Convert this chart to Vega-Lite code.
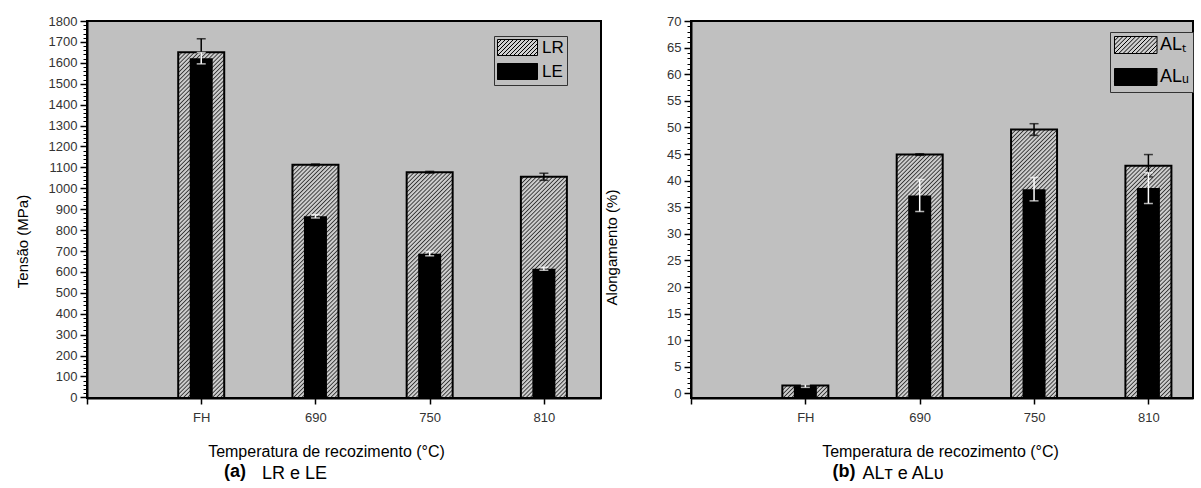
{
  "$schema": "https://vega.github.io/schema/vega-lite/v6.json",
  "padding": {"left": 14, "top": 14, "right": 0, "bottom": 0},
  "spacing": 1,
  "background": "white",
  "datasets": {
    "a": [
      {"Temp": "FH", "serie": "LR", "valor": 1650, "erro": 65},
      {"Temp": "690", "serie": "LR", "valor": 1112, "erro": 4},
      {"Temp": "750", "serie": "LR", "valor": 1077, "erro": 4},
      {"Temp": "810", "serie": "LR", "valor": 1055, "erro": 17},
      {"Temp": "FH", "serie": "LE", "valor": 1622, "erro": 27},
      {"Temp": "690", "serie": "LE", "valor": 866, "erro": 8},
      {"Temp": "750", "serie": "LE", "valor": 687, "erro": 10},
      {"Temp": "810", "serie": "LE", "valor": 615, "erro": 7}
    ],
    "b": [
      {"Temp": "FH", "serie": "ALT", "valor": 1.5, "erro": 0.1},
      {"Temp": "690", "serie": "ALT", "valor": 44.9, "erro": 0.15},
      {"Temp": "750", "serie": "ALT", "valor": 49.6, "erro": 1.1},
      {"Temp": "810", "serie": "ALT", "valor": 42.8, "erro": 2.1},
      {"Temp": "FH", "serie": "ALU", "valor": 1.4, "erro": 0.25},
      {"Temp": "690", "serie": "ALU", "valor": 37.2, "erro": 3.0},
      {"Temp": "750", "serie": "ALU", "valor": 38.4, "erro": 2.2},
      {"Temp": "810", "serie": "ALU", "valor": 38.6, "erro": 2.9}
    ]
  },
  "resolve": {"scale": {"fill": "independent"}, "legend": {"fill": "independent"}},
  "hconcat": [
    {
      "title": {"text": "LR e LE", "orient": "bottom", "anchor": "start", "frame": "bounds", "dx": 248, "offset": -17, "fontSize": 18, "fontWeight": "normal", "color": "#000"},
      "hconcat": [
    {
      "width": 514,
      "height": 377,
      "data": {"name": "a"},
      "title": {"text": "(a)", "orient": "bottom", "frame": "group", "anchor": "middle", "dx": -109, "offset": 4, "fontSize": 18, "fontWeight": "bold", "color": "#000"},
      "encoding": {
        "x": {
          "field": "Temp", "type": "ordinal",
          "scale": {"type": "point", "domain": ["", "FH", "690", "750", "810"], "padding": 0.25, "align": 0},
          "axis": {"title": "Temperatura de recozimento (°C)", "titleX": 239, "titlePadding": 19, "titleFontSize": 16, "tickSize": 6, "tickWidth": 1.5, "labelPadding": 7, "labelAngle": 0}
        }
      },
      "resolve": {"axis": {"y": "independent"}},
      "layer": [
        {
          "transform": [{"filter": "datum.serie == 'LR'"}],
          "mark": {"type": "bar", "size": 46, "fill": {
          "gradient": "linear", "x1": 0, "y1": 0, "x2": 0.13907, "y2": 1.10805,
          "stops": [
            {"offset":0,"color":"#333"},{"offset":0.003,"color":"#ccc"},{"offset":0.007,"color":"#ccc"},
            {"offset":0.01,"color":"#333"},{"offset":0.013,"color":"#ccc"},{"offset":0.017,"color":"#ccc"},
            {"offset":0.02,"color":"#333"},{"offset":0.023,"color":"#ccc"},{"offset":0.027,"color":"#ccc"},
            {"offset":0.03,"color":"#333"},{"offset":0.033,"color":"#ccc"},{"offset":0.037,"color":"#ccc"},
            {"offset":0.04,"color":"#333"},{"offset":0.043,"color":"#ccc"},{"offset":0.047,"color":"#ccc"},
            {"offset":0.05,"color":"#333"},{"offset":0.053,"color":"#ccc"},{"offset":0.057,"color":"#ccc"},
            {"offset":0.06,"color":"#333"},{"offset":0.063,"color":"#ccc"},{"offset":0.067,"color":"#ccc"},
            {"offset":0.07,"color":"#333"},{"offset":0.073,"color":"#ccc"},{"offset":0.077,"color":"#ccc"},
            {"offset":0.08,"color":"#333"},{"offset":0.083,"color":"#ccc"},{"offset":0.087,"color":"#ccc"},
            {"offset":0.09,"color":"#333"},{"offset":0.093,"color":"#ccc"},{"offset":0.097,"color":"#ccc"},
            {"offset":0.1,"color":"#333"},{"offset":0.103,"color":"#ccc"},{"offset":0.107,"color":"#ccc"},
            {"offset":0.11,"color":"#333"},{"offset":0.113,"color":"#ccc"},{"offset":0.117,"color":"#ccc"},
            {"offset":0.12,"color":"#333"},{"offset":0.123,"color":"#ccc"},{"offset":0.127,"color":"#ccc"},
            {"offset":0.13,"color":"#333"},{"offset":0.133,"color":"#ccc"},{"offset":0.137,"color":"#ccc"},
            {"offset":0.14,"color":"#333"},{"offset":0.143,"color":"#ccc"},{"offset":0.147,"color":"#ccc"},
            {"offset":0.15,"color":"#333"},{"offset":0.153,"color":"#ccc"},{"offset":0.157,"color":"#ccc"},
            {"offset":0.16,"color":"#333"},{"offset":0.163,"color":"#ccc"},{"offset":0.167,"color":"#ccc"},
            {"offset":0.17,"color":"#333"},{"offset":0.173,"color":"#ccc"},{"offset":0.177,"color":"#ccc"},
            {"offset":0.18,"color":"#333"},{"offset":0.183,"color":"#ccc"},{"offset":0.187,"color":"#ccc"},
            {"offset":0.19,"color":"#333"},{"offset":0.193,"color":"#ccc"},{"offset":0.197,"color":"#ccc"},
            {"offset":0.2,"color":"#333"},{"offset":0.203,"color":"#ccc"},{"offset":0.207,"color":"#ccc"},
            {"offset":0.21,"color":"#333"},{"offset":0.213,"color":"#ccc"},{"offset":0.217,"color":"#ccc"},
            {"offset":0.22,"color":"#333"},{"offset":0.223,"color":"#ccc"},{"offset":0.227,"color":"#ccc"},
            {"offset":0.23,"color":"#333"},{"offset":0.233,"color":"#ccc"},{"offset":0.237,"color":"#ccc"},
            {"offset":0.24,"color":"#333"},{"offset":0.243,"color":"#ccc"},{"offset":0.247,"color":"#ccc"},
            {"offset":0.25,"color":"#333"},{"offset":0.253,"color":"#ccc"},{"offset":0.257,"color":"#ccc"},
            {"offset":0.26,"color":"#333"},{"offset":0.263,"color":"#ccc"},{"offset":0.267,"color":"#ccc"},
            {"offset":0.27,"color":"#333"},{"offset":0.273,"color":"#ccc"},{"offset":0.277,"color":"#ccc"},
            {"offset":0.28,"color":"#333"},{"offset":0.283,"color":"#ccc"},{"offset":0.287,"color":"#ccc"},
            {"offset":0.29,"color":"#333"},{"offset":0.293,"color":"#ccc"},{"offset":0.297,"color":"#ccc"},
            {"offset":0.3,"color":"#333"},{"offset":0.303,"color":"#ccc"},{"offset":0.307,"color":"#ccc"},
            {"offset":0.31,"color":"#333"},{"offset":0.313,"color":"#ccc"},{"offset":0.317,"color":"#ccc"},
            {"offset":0.32,"color":"#333"},{"offset":0.323,"color":"#ccc"},{"offset":0.327,"color":"#ccc"},
            {"offset":0.33,"color":"#333"},{"offset":0.333,"color":"#ccc"},{"offset":0.337,"color":"#ccc"},
            {"offset":0.34,"color":"#333"},{"offset":0.343,"color":"#ccc"},{"offset":0.347,"color":"#ccc"},
            {"offset":0.35,"color":"#333"},{"offset":0.353,"color":"#ccc"},{"offset":0.357,"color":"#ccc"},
            {"offset":0.36,"color":"#333"},{"offset":0.363,"color":"#ccc"},{"offset":0.367,"color":"#ccc"},
            {"offset":0.37,"color":"#333"},{"offset":0.373,"color":"#ccc"},{"offset":0.377,"color":"#ccc"},
            {"offset":0.38,"color":"#333"},{"offset":0.383,"color":"#ccc"},{"offset":0.387,"color":"#ccc"},
            {"offset":0.39,"color":"#333"},{"offset":0.393,"color":"#ccc"},{"offset":0.397,"color":"#ccc"},
            {"offset":0.4,"color":"#333"},{"offset":0.403,"color":"#ccc"},{"offset":0.407,"color":"#ccc"},
            {"offset":0.41,"color":"#333"},{"offset":0.413,"color":"#ccc"},{"offset":0.417,"color":"#ccc"},
            {"offset":0.42,"color":"#333"},{"offset":0.423,"color":"#ccc"},{"offset":0.427,"color":"#ccc"},
            {"offset":0.43,"color":"#333"},{"offset":0.433,"color":"#ccc"},{"offset":0.437,"color":"#ccc"},
            {"offset":0.44,"color":"#333"},{"offset":0.443,"color":"#ccc"},{"offset":0.447,"color":"#ccc"},
            {"offset":0.45,"color":"#333"},{"offset":0.453,"color":"#ccc"},{"offset":0.457,"color":"#ccc"},
            {"offset":0.46,"color":"#333"},{"offset":0.463,"color":"#ccc"},{"offset":0.467,"color":"#ccc"},
            {"offset":0.47,"color":"#333"},{"offset":0.473,"color":"#ccc"},{"offset":0.477,"color":"#ccc"},
            {"offset":0.48,"color":"#333"},{"offset":0.483,"color":"#ccc"},{"offset":0.487,"color":"#ccc"},
            {"offset":0.49,"color":"#333"},{"offset":0.493,"color":"#ccc"},{"offset":0.497,"color":"#ccc"},
            {"offset":0.5,"color":"#333"},{"offset":0.503,"color":"#ccc"},{"offset":0.507,"color":"#ccc"},
            {"offset":0.51,"color":"#333"},{"offset":0.513,"color":"#ccc"},{"offset":0.517,"color":"#ccc"},
            {"offset":0.52,"color":"#333"},{"offset":0.523,"color":"#ccc"},{"offset":0.527,"color":"#ccc"},
            {"offset":0.53,"color":"#333"},{"offset":0.533,"color":"#ccc"},{"offset":0.537,"color":"#ccc"},
            {"offset":0.54,"color":"#333"},{"offset":0.543,"color":"#ccc"},{"offset":0.547,"color":"#ccc"},
            {"offset":0.55,"color":"#333"},{"offset":0.553,"color":"#ccc"},{"offset":0.557,"color":"#ccc"},
            {"offset":0.56,"color":"#333"},{"offset":0.563,"color":"#ccc"},{"offset":0.567,"color":"#ccc"},
            {"offset":0.57,"color":"#333"},{"offset":0.573,"color":"#ccc"},{"offset":0.577,"color":"#ccc"},
            {"offset":0.58,"color":"#333"},{"offset":0.583,"color":"#ccc"},{"offset":0.587,"color":"#ccc"},
            {"offset":0.59,"color":"#333"},{"offset":0.593,"color":"#ccc"},{"offset":0.597,"color":"#ccc"},
            {"offset":0.6,"color":"#333"},{"offset":0.603,"color":"#ccc"},{"offset":0.607,"color":"#ccc"},
            {"offset":0.61,"color":"#333"},{"offset":0.613,"color":"#ccc"},{"offset":0.617,"color":"#ccc"},
            {"offset":0.62,"color":"#333"},{"offset":0.623,"color":"#ccc"},{"offset":0.627,"color":"#ccc"},
            {"offset":0.63,"color":"#333"},{"offset":0.633,"color":"#ccc"},{"offset":0.637,"color":"#ccc"},
            {"offset":0.64,"color":"#333"},{"offset":0.643,"color":"#ccc"},{"offset":0.647,"color":"#ccc"},
            {"offset":0.65,"color":"#333"},{"offset":0.653,"color":"#ccc"},{"offset":0.657,"color":"#ccc"},
            {"offset":0.66,"color":"#333"},{"offset":0.663,"color":"#ccc"},{"offset":0.667,"color":"#ccc"},
            {"offset":0.67,"color":"#333"},{"offset":0.673,"color":"#ccc"},{"offset":0.677,"color":"#ccc"},
            {"offset":0.68,"color":"#333"},{"offset":0.683,"color":"#ccc"},{"offset":0.687,"color":"#ccc"},
            {"offset":0.69,"color":"#333"},{"offset":0.693,"color":"#ccc"},{"offset":0.697,"color":"#ccc"},
            {"offset":0.7,"color":"#333"},{"offset":0.703,"color":"#ccc"},{"offset":0.707,"color":"#ccc"},
            {"offset":0.71,"color":"#333"},{"offset":0.713,"color":"#ccc"},{"offset":0.717,"color":"#ccc"},
            {"offset":0.72,"color":"#333"},{"offset":0.723,"color":"#ccc"},{"offset":0.727,"color":"#ccc"},
            {"offset":0.73,"color":"#333"},{"offset":0.733,"color":"#ccc"},{"offset":0.737,"color":"#ccc"},
            {"offset":0.74,"color":"#333"},{"offset":0.743,"color":"#ccc"},{"offset":0.747,"color":"#ccc"},
            {"offset":0.75,"color":"#333"},{"offset":0.753,"color":"#ccc"},{"offset":0.757,"color":"#ccc"},
            {"offset":0.76,"color":"#333"},{"offset":0.763,"color":"#ccc"},{"offset":0.767,"color":"#ccc"},
            {"offset":0.77,"color":"#333"},{"offset":0.773,"color":"#ccc"},{"offset":0.777,"color":"#ccc"},
            {"offset":0.78,"color":"#333"},{"offset":0.783,"color":"#ccc"},{"offset":0.787,"color":"#ccc"},
            {"offset":0.79,"color":"#333"},{"offset":0.793,"color":"#ccc"},{"offset":0.797,"color":"#ccc"},
            {"offset":0.8,"color":"#333"},{"offset":0.803,"color":"#ccc"},{"offset":0.807,"color":"#ccc"},
            {"offset":0.81,"color":"#333"},{"offset":0.813,"color":"#ccc"},{"offset":0.817,"color":"#ccc"},
            {"offset":0.82,"color":"#333"},{"offset":0.823,"color":"#ccc"},{"offset":0.827,"color":"#ccc"},
            {"offset":0.83,"color":"#333"},{"offset":0.833,"color":"#ccc"},{"offset":0.837,"color":"#ccc"},
            {"offset":0.84,"color":"#333"},{"offset":0.843,"color":"#ccc"},{"offset":0.847,"color":"#ccc"},
            {"offset":0.85,"color":"#333"},{"offset":0.853,"color":"#ccc"},{"offset":0.857,"color":"#ccc"},
            {"offset":0.86,"color":"#333"},{"offset":0.863,"color":"#ccc"},{"offset":0.867,"color":"#ccc"},
            {"offset":0.87,"color":"#333"},{"offset":0.873,"color":"#ccc"},{"offset":0.877,"color":"#ccc"},
            {"offset":0.88,"color":"#333"},{"offset":0.883,"color":"#ccc"},{"offset":0.887,"color":"#ccc"},
            {"offset":0.89,"color":"#333"},{"offset":0.893,"color":"#ccc"},{"offset":0.897,"color":"#ccc"},
            {"offset":0.9,"color":"#333"},{"offset":0.903,"color":"#ccc"},{"offset":0.907,"color":"#ccc"},
            {"offset":0.91,"color":"#333"},{"offset":0.913,"color":"#ccc"},{"offset":0.917,"color":"#ccc"},
            {"offset":0.92,"color":"#333"},{"offset":0.923,"color":"#ccc"},{"offset":0.927,"color":"#ccc"},
            {"offset":0.93,"color":"#333"},{"offset":0.933,"color":"#ccc"},{"offset":0.937,"color":"#ccc"},
            {"offset":0.94,"color":"#333"},{"offset":0.943,"color":"#ccc"},{"offset":0.947,"color":"#ccc"},
            {"offset":0.95,"color":"#333"},{"offset":0.953,"color":"#ccc"},{"offset":0.957,"color":"#ccc"},
            {"offset":0.96,"color":"#333"},{"offset":0.963,"color":"#ccc"},{"offset":0.967,"color":"#ccc"},
            {"offset":0.97,"color":"#333"},{"offset":0.973,"color":"#ccc"},{"offset":0.977,"color":"#ccc"},
            {"offset":0.98,"color":"#333"},{"offset":0.983,"color":"#ccc"},{"offset":0.987,"color":"#ccc"},
            {"offset":0.99,"color":"#333"},{"offset":0.993,"color":"#ccc"},{"offset":0.997,"color":"#ccc"},
            {"offset":1,"color":"#333"}
          ]}},
          "encoding": {
            "y": {"datum": 1750, "type": "quantitative", "scale": {"domain": [-3, 1800], "nice": false, "zero": false},
              "axis": {"orient": "left", "title": "Tensão (MPa)", "titlePadding": 18, "titleY": 220, "titleFontSize": 15, "format": "d", "values": [0,100,200,300,400,500,600,700,800,900,1000,1100,1200,1300,1400,1500,1600,1700,1800], "tickSize": 7, "tickWidth": 1.5, "labelPadding": 3}},
            "y2": {"datum": -3}
          }
        },
        {
          "transform": [{"filter": "datum.serie == 'LR'"}],
          "mark": {"type": "bar", "size": 50, "fill": "#c0c0c0"},
          "encoding": {
            "y": {"field": "valor", "type": "quantitative", "scale": {"domain": [-3, 1800], "nice": false, "zero": false},
              "axis": {"orient": "left", "title": null, "labels": false, "domain": false, "tickSize": 4, "tickWidth": 1, "values": [0,20,40,60,80,100,120,140,160,180,200,220,240,260,280,300,320,340,360,380,400,420,440,460,480,500,520,540,560,580,600,620,640,660,680,700,720,740,760,780,800,820,840,860,880,900,920,940,960,980,1000,1020,1040,1060,1080,1100,1120,1140,1160,1180,1200,1220,1240,1260,1280,1300,1320,1340,1360,1380,1400,1420,1440,1460,1480,1500,1520,1540,1560,1580,1600,1620,1640,1660,1680,1700,1720,1740,1760,1780,1800]}},
            "y2": {"datum": 1770}
          }
        },
        {
          "transform": [{"filter": "datum.serie == 'LR'"}],
          "mark": {"type": "bar", "size": 46, "fill": "transparent", "stroke": "#000", "strokeWidth": 2},
          "encoding": {
            "y": {"field": "valor", "type": "quantitative", "scale": {"domain": [-3, 1800], "nice": false, "zero": false}, "axis": null},
            "y2": {"datum": -3}
          }
        },
        {
          "transform": [{"filter": "datum.serie == 'LR'"}],
          "mark": {"type": "errorbar", "color": "#000", "ticks": {"size": 9, "thickness": 1.5}, "rule": {"strokeWidth": 1.5}},
          "encoding": {
            "y": {"field": "valor", "type": "quantitative", "scale": {"domain": [-3, 1800], "nice": false, "zero": false}, "axis": null},
            "yError": {"field": "erro"}
          }
        },
        {
          "transform": [{"filter": "datum.serie == 'LE'"}],
          "mark": {"type": "bar", "size": 23},
          "encoding": {
            "y": {"field": "valor", "type": "quantitative", "scale": {"domain": [-3, 1800], "nice": false, "zero": false}, "axis": null},
            "y2": {"datum": -3},
            "fill": {"field": "serie", "type": "nominal", "scale": {"domain": ["LR", "LE"], "range": ["#d0d0d0", "#000000"]},
              "legend": {"orient": "none", "legendX": 407, "legendY": 15, "title": null, "symbolSize": 256, "labelFontSize": 17, "labelOffset": 28, "rowPadding": 3, "padding": 3}}
          }
        },
        {
          "transform": [{"filter": "datum.serie == 'LE'"}],
          "mark": {"type": "errorbar", "color": "#fff", "ticks": {"size": 9, "thickness": 1.5}, "rule": {"strokeWidth": 1.5}},
          "encoding": {
            "y": {"field": "valor", "type": "quantitative", "scale": {"domain": [-3, 1800], "nice": false, "zero": false}, "axis": null},
            "yError": {"field": "erro"}
          }
        }
      ]
    }
      ]
    },
    {
      "title": {"text": "ALᴛ e ALᴜ", "orient": "bottom", "anchor": "start", "frame": "bounds", "dx": 259, "offset": -17, "fontSize": 18, "fontWeight": "normal", "color": "#000"},
      "hconcat": [
    {
      "width": 502,
      "height": 377,
      "data": {"name": "b"},
      "title": {"text": "(b)", "orient": "bottom", "frame": "group", "anchor": "middle", "dx": -98, "offset": 4, "fontSize": 18, "fontWeight": "bold", "color": "#000"},
      "encoding": {
        "x": {
          "field": "Temp", "type": "ordinal",
          "scale": {"type": "point", "domain": ["", "FH", "690", "750", "810"], "padding": 0.195, "align": 0},
          "axis": {"title": "Temperatura de recozimento (°C)", "titleX": 249, "titlePadding": 19, "titleFontSize": 16, "tickSize": 6, "tickWidth": 1.5, "labelPadding": 7, "labelAngle": 0}
        }
      },
      "resolve": {"axis": {"y": "independent"}},
      "layer": [
        {
          "transform": [{"filter": "datum.serie == 'ALT'"}],
          "mark": {"type": "bar", "size": 46, "fill": {
          "gradient": "linear", "x1": 0, "y1": 0, "x2": 0.13907, "y2": 1.10805,
          "stops": [
            {"offset":0,"color":"#333"},{"offset":0.003,"color":"#ccc"},{"offset":0.007,"color":"#ccc"},
            {"offset":0.01,"color":"#333"},{"offset":0.013,"color":"#ccc"},{"offset":0.017,"color":"#ccc"},
            {"offset":0.02,"color":"#333"},{"offset":0.023,"color":"#ccc"},{"offset":0.027,"color":"#ccc"},
            {"offset":0.03,"color":"#333"},{"offset":0.033,"color":"#ccc"},{"offset":0.037,"color":"#ccc"},
            {"offset":0.04,"color":"#333"},{"offset":0.043,"color":"#ccc"},{"offset":0.047,"color":"#ccc"},
            {"offset":0.05,"color":"#333"},{"offset":0.053,"color":"#ccc"},{"offset":0.057,"color":"#ccc"},
            {"offset":0.06,"color":"#333"},{"offset":0.063,"color":"#ccc"},{"offset":0.067,"color":"#ccc"},
            {"offset":0.07,"color":"#333"},{"offset":0.073,"color":"#ccc"},{"offset":0.077,"color":"#ccc"},
            {"offset":0.08,"color":"#333"},{"offset":0.083,"color":"#ccc"},{"offset":0.087,"color":"#ccc"},
            {"offset":0.09,"color":"#333"},{"offset":0.093,"color":"#ccc"},{"offset":0.097,"color":"#ccc"},
            {"offset":0.1,"color":"#333"},{"offset":0.103,"color":"#ccc"},{"offset":0.107,"color":"#ccc"},
            {"offset":0.11,"color":"#333"},{"offset":0.113,"color":"#ccc"},{"offset":0.117,"color":"#ccc"},
            {"offset":0.12,"color":"#333"},{"offset":0.123,"color":"#ccc"},{"offset":0.127,"color":"#ccc"},
            {"offset":0.13,"color":"#333"},{"offset":0.133,"color":"#ccc"},{"offset":0.137,"color":"#ccc"},
            {"offset":0.14,"color":"#333"},{"offset":0.143,"color":"#ccc"},{"offset":0.147,"color":"#ccc"},
            {"offset":0.15,"color":"#333"},{"offset":0.153,"color":"#ccc"},{"offset":0.157,"color":"#ccc"},
            {"offset":0.16,"color":"#333"},{"offset":0.163,"color":"#ccc"},{"offset":0.167,"color":"#ccc"},
            {"offset":0.17,"color":"#333"},{"offset":0.173,"color":"#ccc"},{"offset":0.177,"color":"#ccc"},
            {"offset":0.18,"color":"#333"},{"offset":0.183,"color":"#ccc"},{"offset":0.187,"color":"#ccc"},
            {"offset":0.19,"color":"#333"},{"offset":0.193,"color":"#ccc"},{"offset":0.197,"color":"#ccc"},
            {"offset":0.2,"color":"#333"},{"offset":0.203,"color":"#ccc"},{"offset":0.207,"color":"#ccc"},
            {"offset":0.21,"color":"#333"},{"offset":0.213,"color":"#ccc"},{"offset":0.217,"color":"#ccc"},
            {"offset":0.22,"color":"#333"},{"offset":0.223,"color":"#ccc"},{"offset":0.227,"color":"#ccc"},
            {"offset":0.23,"color":"#333"},{"offset":0.233,"color":"#ccc"},{"offset":0.237,"color":"#ccc"},
            {"offset":0.24,"color":"#333"},{"offset":0.243,"color":"#ccc"},{"offset":0.247,"color":"#ccc"},
            {"offset":0.25,"color":"#333"},{"offset":0.253,"color":"#ccc"},{"offset":0.257,"color":"#ccc"},
            {"offset":0.26,"color":"#333"},{"offset":0.263,"color":"#ccc"},{"offset":0.267,"color":"#ccc"},
            {"offset":0.27,"color":"#333"},{"offset":0.273,"color":"#ccc"},{"offset":0.277,"color":"#ccc"},
            {"offset":0.28,"color":"#333"},{"offset":0.283,"color":"#ccc"},{"offset":0.287,"color":"#ccc"},
            {"offset":0.29,"color":"#333"},{"offset":0.293,"color":"#ccc"},{"offset":0.297,"color":"#ccc"},
            {"offset":0.3,"color":"#333"},{"offset":0.303,"color":"#ccc"},{"offset":0.307,"color":"#ccc"},
            {"offset":0.31,"color":"#333"},{"offset":0.313,"color":"#ccc"},{"offset":0.317,"color":"#ccc"},
            {"offset":0.32,"color":"#333"},{"offset":0.323,"color":"#ccc"},{"offset":0.327,"color":"#ccc"},
            {"offset":0.33,"color":"#333"},{"offset":0.333,"color":"#ccc"},{"offset":0.337,"color":"#ccc"},
            {"offset":0.34,"color":"#333"},{"offset":0.343,"color":"#ccc"},{"offset":0.347,"color":"#ccc"},
            {"offset":0.35,"color":"#333"},{"offset":0.353,"color":"#ccc"},{"offset":0.357,"color":"#ccc"},
            {"offset":0.36,"color":"#333"},{"offset":0.363,"color":"#ccc"},{"offset":0.367,"color":"#ccc"},
            {"offset":0.37,"color":"#333"},{"offset":0.373,"color":"#ccc"},{"offset":0.377,"color":"#ccc"},
            {"offset":0.38,"color":"#333"},{"offset":0.383,"color":"#ccc"},{"offset":0.387,"color":"#ccc"},
            {"offset":0.39,"color":"#333"},{"offset":0.393,"color":"#ccc"},{"offset":0.397,"color":"#ccc"},
            {"offset":0.4,"color":"#333"},{"offset":0.403,"color":"#ccc"},{"offset":0.407,"color":"#ccc"},
            {"offset":0.41,"color":"#333"},{"offset":0.413,"color":"#ccc"},{"offset":0.417,"color":"#ccc"},
            {"offset":0.42,"color":"#333"},{"offset":0.423,"color":"#ccc"},{"offset":0.427,"color":"#ccc"},
            {"offset":0.43,"color":"#333"},{"offset":0.433,"color":"#ccc"},{"offset":0.437,"color":"#ccc"},
            {"offset":0.44,"color":"#333"},{"offset":0.443,"color":"#ccc"},{"offset":0.447,"color":"#ccc"},
            {"offset":0.45,"color":"#333"},{"offset":0.453,"color":"#ccc"},{"offset":0.457,"color":"#ccc"},
            {"offset":0.46,"color":"#333"},{"offset":0.463,"color":"#ccc"},{"offset":0.467,"color":"#ccc"},
            {"offset":0.47,"color":"#333"},{"offset":0.473,"color":"#ccc"},{"offset":0.477,"color":"#ccc"},
            {"offset":0.48,"color":"#333"},{"offset":0.483,"color":"#ccc"},{"offset":0.487,"color":"#ccc"},
            {"offset":0.49,"color":"#333"},{"offset":0.493,"color":"#ccc"},{"offset":0.497,"color":"#ccc"},
            {"offset":0.5,"color":"#333"},{"offset":0.503,"color":"#ccc"},{"offset":0.507,"color":"#ccc"},
            {"offset":0.51,"color":"#333"},{"offset":0.513,"color":"#ccc"},{"offset":0.517,"color":"#ccc"},
            {"offset":0.52,"color":"#333"},{"offset":0.523,"color":"#ccc"},{"offset":0.527,"color":"#ccc"},
            {"offset":0.53,"color":"#333"},{"offset":0.533,"color":"#ccc"},{"offset":0.537,"color":"#ccc"},
            {"offset":0.54,"color":"#333"},{"offset":0.543,"color":"#ccc"},{"offset":0.547,"color":"#ccc"},
            {"offset":0.55,"color":"#333"},{"offset":0.553,"color":"#ccc"},{"offset":0.557,"color":"#ccc"},
            {"offset":0.56,"color":"#333"},{"offset":0.563,"color":"#ccc"},{"offset":0.567,"color":"#ccc"},
            {"offset":0.57,"color":"#333"},{"offset":0.573,"color":"#ccc"},{"offset":0.577,"color":"#ccc"},
            {"offset":0.58,"color":"#333"},{"offset":0.583,"color":"#ccc"},{"offset":0.587,"color":"#ccc"},
            {"offset":0.59,"color":"#333"},{"offset":0.593,"color":"#ccc"},{"offset":0.597,"color":"#ccc"},
            {"offset":0.6,"color":"#333"},{"offset":0.603,"color":"#ccc"},{"offset":0.607,"color":"#ccc"},
            {"offset":0.61,"color":"#333"},{"offset":0.613,"color":"#ccc"},{"offset":0.617,"color":"#ccc"},
            {"offset":0.62,"color":"#333"},{"offset":0.623,"color":"#ccc"},{"offset":0.627,"color":"#ccc"},
            {"offset":0.63,"color":"#333"},{"offset":0.633,"color":"#ccc"},{"offset":0.637,"color":"#ccc"},
            {"offset":0.64,"color":"#333"},{"offset":0.643,"color":"#ccc"},{"offset":0.647,"color":"#ccc"},
            {"offset":0.65,"color":"#333"},{"offset":0.653,"color":"#ccc"},{"offset":0.657,"color":"#ccc"},
            {"offset":0.66,"color":"#333"},{"offset":0.663,"color":"#ccc"},{"offset":0.667,"color":"#ccc"},
            {"offset":0.67,"color":"#333"},{"offset":0.673,"color":"#ccc"},{"offset":0.677,"color":"#ccc"},
            {"offset":0.68,"color":"#333"},{"offset":0.683,"color":"#ccc"},{"offset":0.687,"color":"#ccc"},
            {"offset":0.69,"color":"#333"},{"offset":0.693,"color":"#ccc"},{"offset":0.697,"color":"#ccc"},
            {"offset":0.7,"color":"#333"},{"offset":0.703,"color":"#ccc"},{"offset":0.707,"color":"#ccc"},
            {"offset":0.71,"color":"#333"},{"offset":0.713,"color":"#ccc"},{"offset":0.717,"color":"#ccc"},
            {"offset":0.72,"color":"#333"},{"offset":0.723,"color":"#ccc"},{"offset":0.727,"color":"#ccc"},
            {"offset":0.73,"color":"#333"},{"offset":0.733,"color":"#ccc"},{"offset":0.737,"color":"#ccc"},
            {"offset":0.74,"color":"#333"},{"offset":0.743,"color":"#ccc"},{"offset":0.747,"color":"#ccc"},
            {"offset":0.75,"color":"#333"},{"offset":0.753,"color":"#ccc"},{"offset":0.757,"color":"#ccc"},
            {"offset":0.76,"color":"#333"},{"offset":0.763,"color":"#ccc"},{"offset":0.767,"color":"#ccc"},
            {"offset":0.77,"color":"#333"},{"offset":0.773,"color":"#ccc"},{"offset":0.777,"color":"#ccc"},
            {"offset":0.78,"color":"#333"},{"offset":0.783,"color":"#ccc"},{"offset":0.787,"color":"#ccc"},
            {"offset":0.79,"color":"#333"},{"offset":0.793,"color":"#ccc"},{"offset":0.797,"color":"#ccc"},
            {"offset":0.8,"color":"#333"},{"offset":0.803,"color":"#ccc"},{"offset":0.807,"color":"#ccc"},
            {"offset":0.81,"color":"#333"},{"offset":0.813,"color":"#ccc"},{"offset":0.817,"color":"#ccc"},
            {"offset":0.82,"color":"#333"},{"offset":0.823,"color":"#ccc"},{"offset":0.827,"color":"#ccc"},
            {"offset":0.83,"color":"#333"},{"offset":0.833,"color":"#ccc"},{"offset":0.837,"color":"#ccc"},
            {"offset":0.84,"color":"#333"},{"offset":0.843,"color":"#ccc"},{"offset":0.847,"color":"#ccc"},
            {"offset":0.85,"color":"#333"},{"offset":0.853,"color":"#ccc"},{"offset":0.857,"color":"#ccc"},
            {"offset":0.86,"color":"#333"},{"offset":0.863,"color":"#ccc"},{"offset":0.867,"color":"#ccc"},
            {"offset":0.87,"color":"#333"},{"offset":0.873,"color":"#ccc"},{"offset":0.877,"color":"#ccc"},
            {"offset":0.88,"color":"#333"},{"offset":0.883,"color":"#ccc"},{"offset":0.887,"color":"#ccc"},
            {"offset":0.89,"color":"#333"},{"offset":0.893,"color":"#ccc"},{"offset":0.897,"color":"#ccc"},
            {"offset":0.9,"color":"#333"},{"offset":0.903,"color":"#ccc"},{"offset":0.907,"color":"#ccc"},
            {"offset":0.91,"color":"#333"},{"offset":0.913,"color":"#ccc"},{"offset":0.917,"color":"#ccc"},
            {"offset":0.92,"color":"#333"},{"offset":0.923,"color":"#ccc"},{"offset":0.927,"color":"#ccc"},
            {"offset":0.93,"color":"#333"},{"offset":0.933,"color":"#ccc"},{"offset":0.937,"color":"#ccc"},
            {"offset":0.94,"color":"#333"},{"offset":0.943,"color":"#ccc"},{"offset":0.947,"color":"#ccc"},
            {"offset":0.95,"color":"#333"},{"offset":0.953,"color":"#ccc"},{"offset":0.957,"color":"#ccc"},
            {"offset":0.96,"color":"#333"},{"offset":0.963,"color":"#ccc"},{"offset":0.967,"color":"#ccc"},
            {"offset":0.97,"color":"#333"},{"offset":0.973,"color":"#ccc"},{"offset":0.977,"color":"#ccc"},
            {"offset":0.98,"color":"#333"},{"offset":0.983,"color":"#ccc"},{"offset":0.987,"color":"#ccc"},
            {"offset":0.99,"color":"#333"},{"offset":0.993,"color":"#ccc"},{"offset":0.997,"color":"#ccc"},
            {"offset":1,"color":"#333"}
          ]}},
          "encoding": {
            "y": {"datum": 68.0, "type": "quantitative", "scale": {"domain": [-0.85, 70], "nice": false, "zero": false},
              "axis": {"orient": "left", "title": "Alongamento (%)", "titlePadding": 47, "titleY": 226, "titleFontSize": 15, "values": [0,5,10,15,20,25,30,35,40,45,50,55,60,65,70], "tickSize": 7, "tickWidth": 1.5, "labelPadding": 3}},
            "y2": {"datum": -0.85}
          }
        },
        {
          "transform": [{"filter": "datum.serie == 'ALT'"}],
          "mark": {"type": "bar", "size": 50, "fill": "#c0c0c0"},
          "encoding": {
            "y": {"field": "valor", "type": "quantitative", "scale": {"domain": [-0.85, 70], "nice": false, "zero": false},
              "axis": {"orient": "left", "title": null, "labels": false, "domain": false, "tickSize": 4, "tickWidth": 1, "values": [0,1,2,3,4,5,6,7,8,9,10,11,12,13,14,15,16,17,18,19,20,21,22,23,24,25,26,27,28,29,30,31,32,33,34,35,36,37,38,39,40,41,42,43,44,45,46,47,48,49,50,51,52,53,54,55,56,57,58,59,60,61,62,63,64,65,66,67,68,69,70]}},
            "y2": {"datum": 68.8}
          }
        },
        {
          "transform": [{"filter": "datum.serie == 'ALT'"}],
          "mark": {"type": "bar", "size": 46, "fill": "transparent", "stroke": "#000", "strokeWidth": 2},
          "encoding": {
            "y": {"field": "valor", "type": "quantitative", "scale": {"domain": [-0.85, 70], "nice": false, "zero": false}, "axis": null},
            "y2": {"datum": -0.85}
          }
        },
        {
          "transform": [{"filter": "datum.serie == 'ALT'"}],
          "mark": {"type": "errorbar", "color": "#000", "ticks": {"size": 9, "thickness": 1.5}, "rule": {"strokeWidth": 1.5}},
          "encoding": {
            "y": {"field": "valor", "type": "quantitative", "scale": {"domain": [-0.85, 70], "nice": false, "zero": false}, "axis": null},
            "yError": {"field": "erro"}
          }
        },
        {
          "transform": [{"filter": "datum.serie == 'ALU'"}],
          "mark": {"type": "bar", "size": 23},
          "encoding": {
            "y": {"field": "valor", "type": "quantitative", "scale": {"domain": [-0.85, 70], "nice": false, "zero": false}, "axis": null},
            "y2": {"datum": -0.85},
            "fill": {"field": "serie", "type": "nominal", "scale": {"domain": ["ALT", "ALU"], "range": ["#d0d0d0", "#000000"]},
              "legend": {"orient": "none", "legendX": 419, "legendY": 11, "title": null, "symbolSize": 289, "labelFontSize": 18, "labelOffset": 28, "rowPadding": 10, "padding": 4,
                "labelExpr": "datum.label == 'ALT' ? 'ALₜ' : 'ALᵤ'"}}
          }
        },
        {
          "transform": [{"filter": "datum.serie == 'ALU'"}],
          "mark": {"type": "errorbar", "color": "#fff", "ticks": {"size": 9, "thickness": 1.5}, "rule": {"strokeWidth": 1.5}},
          "encoding": {
            "y": {"field": "valor", "type": "quantitative", "scale": {"domain": [-0.85, 70], "nice": false, "zero": false}, "axis": null},
            "yError": {"field": "erro"}
          }
        }
      ]
    }
      ]
    }
  ],
  "config": {
    "font": "Liberation Sans, Arial, Helvetica, sans-serif",
    "view": {"fill": "#c0c0c0", "stroke": "#000", "strokeWidth": 2},
    "axis": {"labelFontSize": 13, "labelColor": "#333", "titleFontSize": 14, "titleFontWeight": "normal", "titleColor": "#000", "domainColor": "#000", "domainWidth": 2, "tickColor": "#000", "grid": false, "labelOverlap": false},
    "legend": {"symbolType": "M-1,-1H4V1H-1Z M-1,-0.5L-0.5,-1 M-1,0L0,-1 M-1,0.5L0.5,-1 M-1,1L1,-1 M-0.5,1L1.5,-1 M0,1L2,-1 M0.5,1L2.5,-1 M1,1L3,-1 M1.5,1L3.5,-1 M2,1L4,-1 M2.5,1L4,-0.5 M3,1L4,0 M3.5,1L4,0.5", "symbolStrokeColor": "#000", "symbolStrokeWidth": 1, "symbolOpacity": 1, "labelColor": "#000", "strokeColor": "#333", "fillColor": "#c0c0c0"}
  }
}
